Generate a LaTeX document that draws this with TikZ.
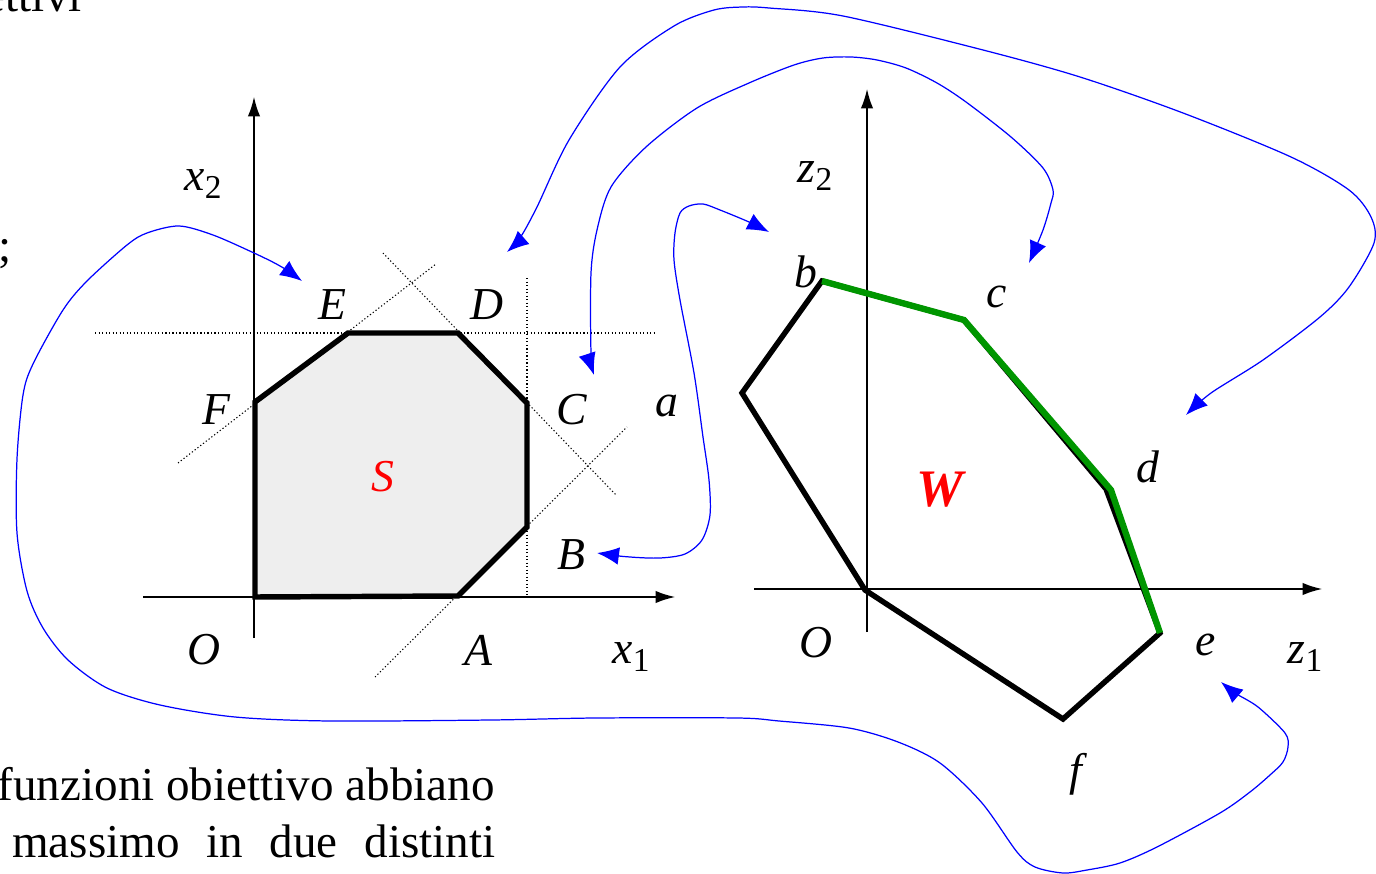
\documentclass[tikz,border=0pt]{standalone}
\usepackage{fontspec}
\setmainfont{Liberation Serif}
\usetikzlibrary{arrows.meta}

\definecolor{regiongray}{RGB}{238,238,238}
\definecolor{front}{RGB}{0,150,0}

\tikzset{
  axis/.style={line width=0.8pt, -{Latex[length=11pt,width=7pt]}},
  guide/.style={line width=0.6pt, dash pattern=on 0.7pt off 1.3pt},
  region/.style={line width=3.1pt, line join=miter},
  link/.style={blue, line width=0.7pt,
    {Latex[length=12.5pt,width=10pt]}-{Latex[length=12.5pt,width=10pt]}},
  lab/.style={font=\fontsize{26}{30}\selectfont\itshape, inner sep=0pt},
  body/.style={font=\fontsize{26.8}{31}\selectfont, inner sep=0pt},
}
\newcommand{\idx}[2]{#1\raisebox{-0.35ex}{\fontsize{19}{22}\selectfont\upshape #2}}

\begin{document}
\begin{tikzpicture}[x=0.02cm, y=-0.02cm]
\clip (0,0) rectangle (1376,874);

% page text around the figure
\node[body, anchor=base east] (txttop) at (82,12) {ettivi};
\node[body, anchor=base west] (txtsemi) at (-2,262) {;};
\node[body, anchor=base east] (txtone) at (495,800) {funzioni obiettivo abbiano};
\node[body, anchor=base west] (txttwo) at (12,857)
  {\hbox to 9.66cm{massimo\hfill in\hfill due\hfill distinti}};

% decision space: region S
\begin{scope}
  \coordinate (O1) at (255,597);
  \coordinate (A) at (458,596);
  \coordinate (B) at (527,527);
  \coordinate (C) at (527,403);
  \coordinate (D) at (458,333);
  \coordinate (E) at (348,333);
  \coordinate (F) at (255,402);

  \fill[regiongray] (O1) -- (A) -- (B) -- (C) -- (D) -- (E) -- (F) -- cycle;
  \draw[guide] (95,333) -- (656,333);
  \draw[guide] (527,278) -- (527,597);
  \draw[guide] (178,463) -- (436,264);
  \draw[guide] (383,253) -- (616,495);
  \draw[guide] (375,677) -- (627,427);

  \coordinate (xl) at (143,597); \coordinate (xr) at (675,597);
  \coordinate (yb) at (254,638); \coordinate (yt) at (254,97);
  \draw[axis] (xl) -- (xr);
  \draw[axis] (yb) -- (yt);
  \draw[region] (O1) -- (A) -- (B) -- (C) -- (D) -- (E) -- (F) -- cycle;

  \node[lab] (lxtwo) at (203,184) {\idx{x}{2}};
  \node[lab] (lxone) at (631,657) {\idx{x}{1}};
  \node[lab] (lE) at (332,305) {E};
  \node[lab] (lD) at (487,305) {D};
  \node[lab] (lF) at (216,410) {F};
  \node[lab] (lC) at (572,410) {C};
  \node[lab] (la) at (667,406) {a};
  \node[lab] (lB) at (571,555) {B};
  \node[lab] (lO) at (204,650) {O};
  \node[lab] (lA) at (478,650) {A};
  \node[lab, red] (lS) at (383,477) {S};
\end{scope}

% objective space: image W
\begin{scope}
  \coordinate (Ow) at (865,590);
  \coordinate (g) at (742,393);
  \coordinate (b) at (822,281);
  \coordinate (c) at (964,320);
  \coordinate (d) at (1106,489);
  \coordinate (dd) at (1111,490);
  \coordinate (e) at (1160,633);
  \coordinate (f) at (1063,719);

  \coordinate (zl) at (754,589); \coordinate (zr) at (1322,589);
  \coordinate (wb) at (867,632); \coordinate (wt) at (867,89);
  \draw[axis] (zl) -- (zr);
  \draw[axis] (wb) -- (wt);
  \draw[region] (Ow) -- (g) -- (b) -- (c) -- (d) -- (e) -- (f) -- cycle;
  \draw[region, front, line width=3.6pt] (b) -- (c) -- (dd) -- (e);

  \node[lab] (lztwo) at (815,176) {\idx{z}{2}};
  \node[lab] (lzone) at (1305,657) {\idx{z}{1}};
  \node[lab] (lb) at (806,272) {b};
  \node[lab] (lc) at (997,297) {c};
  \node[lab] (ld) at (1148,467) {d};
  \node[lab] (lOw) at (816,643) {O};
  \node[lab] (le) at (1206,645) {e};
  \node[lab] (lf) at (1076,774) {f};
  \node[lab, red, font=\fontsize{30}{34}\selectfont\bfseries\itshape] (lW) at (940,490) {W};
\end{scope}

% correspondences
\coordinate (tE) at (302,281);  \coordinate (te) at (1221,682);
\coordinate (tD) at (507,252);  \coordinate (td) at (1186,415);
\coordinate (tC) at (594,375);  \coordinate (tc) at (1029,263);
\coordinate (tB) at (597,553);  \coordinate (tb) at (769,232);

\draw[link] plot[smooth] coordinates {(tE) (280,266) (254,253) (213,235) (179,226)
  (147,233) (127,245) (87,281) (63,310) (33,364) (23,395) (17,459) (17,533)
  (27,591) (43,628) (68,660) (107,688) (160,705) (235,717) (330,721) (491,720)
  (596,718) (737,718) (779,721) (849,728) (898,742) (940,763) (982,803)
  (1017,852) (1035,867) (1063,873) (1087,870) (1120,863) (1157,847) (1220,813)
  (1250,792) (1270,775) (1283,762) (1288,747) (1285,733) (1258,707) (1235,693) (te)};
\draw[link] plot[smooth] coordinates {(tD) (520,238) (537,207) (569,140) (620,67)
  (674,26) (714,10) (743,7) (769,8) (843,16) (983,50) (1080,77) (1183,113)
  (1291,157) (1349,190) (1371,217) (1374,243) (1349,287) (1320,317) (1263,360)
  (1211,393) (td)};
\draw[link] plot[smooth] coordinates {(tC) (591,353) (591,273) (597,230) (611,187)
  (646,147) (697,108) (749,83) (794,65) (823,58) (851,57) (877,60) (906,68)
  (937,83) (966,102) (1011,137) (1043,168) (1053,190) (1051,203) (1043,230) (tc)};
\draw[link] plot[smooth] coordinates {(tB) (630,557) (660,558) (685,554) (702,540)
  (710,515) (709,480) (703,437) (694,373) (680,300) (674,260) (675,233)
  (680,213) (689,206) (703,204) (720,210) (749,222) (tb)};
\end{tikzpicture}
\end{document}
